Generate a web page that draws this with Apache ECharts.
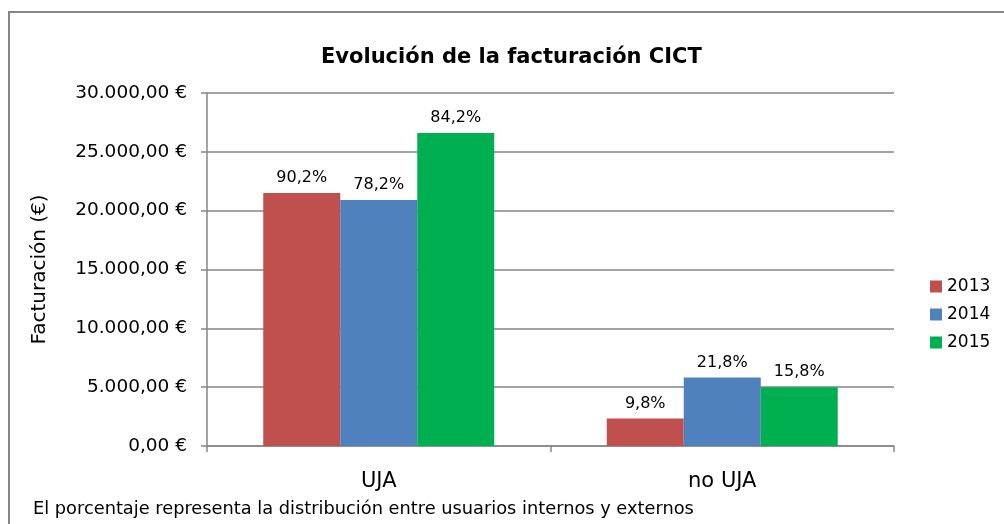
<!DOCTYPE html>
<html>
<head>
<meta charset="utf-8">
<script src="https://cdn.jsdelivr.net/npm/echarts@6/dist/echarts.min.js"></script>
<style>
  html, body { margin: 0; padding: 0; background: #fff; overflow: hidden; }
  #chart { width: 1004px; height: 524px; }
</style>
</head>
<body>
<div id="chart"></div>
<script>
// categorías y series
const categories = ['UJA', 'no UJA'];
const years = ['2013', '2014', '2015'];
const values2013 = [21500, 2340];
const values2014 = [20900, 5830];
const values2015 = [26600, 5000];
const pct2013 = ['90,2%', '9,8%'];
const pct2014 = ['78,2%', '21,8%'];
const pct2015 = ['84,2%', '15,8%'];
const colors = ['#C0504D', '#4F81BD', '#00B050'];

const FONT = '"DejaVu Sans", sans-serif';

// 30000 -> "30.000,00 €"
const euro = (v) => {
  const s = Math.round(v).toString().replace(/\B(?=(\d{3})+(?!\d))/g, '.');
  return s + ',00 €';
};

const makeSeries = (name, data, labels, color) => ({
  name, type: 'bar', data,
  barWidth: 77, barGap: '0%',
  itemStyle: { color },
  label: {
    show: true, position: 'top', distance: 7,
    formatter: (p) => labels[p.dataIndex],
    color: '#000', fontSize: 16, fontFamily: FONT
  }
});

const chart = echarts.init(document.getElementById('chart'));
chart.setOption({
  backgroundColor: '#fff',
  animation: false,
  title: {
    text: 'Evolución de la facturación CICT',
    left: 316, top: 42,
    textStyle: { fontSize: 21, fontWeight: 'bold', color: '#000', fontFamily: FONT }
  },
  legend: {
    data: years, orient: 'vertical', left: 925, top: 273,
    itemWidth: 12, itemHeight: 12, itemGap: 11,
    icon: 'rect',
    textStyle: { fontSize: 17, color: '#000', fontFamily: FONT }
  },
  grid: { left: 207, right: 110, top: 93, bottom: 78 },
  xAxis: {
    type: 'category', data: categories,
    axisLine: { lineStyle: { color: '#868686', width: 1.5 } },
    axisTick: { show: true, length: 6, lineStyle: { color: '#868686', width: 1.5 } },
    axisLabel: { color: '#000', fontSize: 21, margin: 25, fontFamily: FONT }
  },
  yAxis: {
    type: 'value', min: 0, max: 30000, interval: 5000,
    name: 'Facturación (€)', nameLocation: 'middle', nameGap: 157, nameRotate: 90,
    nameTextStyle: { fontSize: 20, color: '#000', fontFamily: FONT },
    axisLine: { show: true, lineStyle: { color: '#868686', width: 1.5 } },
    axisTick: { show: true, length: 6, lineStyle: { color: '#868686', width: 1.5 } },
    axisLabel: { formatter: euro, color: '#000', fontSize: 18.5, margin: 20, fontFamily: FONT },
    splitLine: { lineStyle: { color: '#868686', width: 1.5 } }
  },
  graphic: [
    {
      // marco: solo se ven los bordes superior e izquierdo
      type: 'line', silent: true,
      shape: { x1: 9, y1: 12, x2: 9, y2: 524 },
      style: { stroke: '#878787', lineWidth: 2 }
    },
    {
      type: 'line', silent: true,
      shape: { x1: 8, y1: 12, x2: 1004, y2: 12 },
      style: { stroke: '#878787', lineWidth: 2 }
    },
    {
      type: 'text', left: 33, top: 500,
      style: {
        text: 'El porcentaje representa la distribución entre usuarios internos y externos',
        fontSize: 17.8, fill: '#000', fontFamily: FONT
      }
    }
  ],
  series: [
    makeSeries(years[0], values2013, pct2013, colors[0]),
    makeSeries(years[1], values2014, pct2014, colors[1]),
    makeSeries(years[2], values2015, pct2015, colors[2])
  ]
});
</script>
</body>
</html>
